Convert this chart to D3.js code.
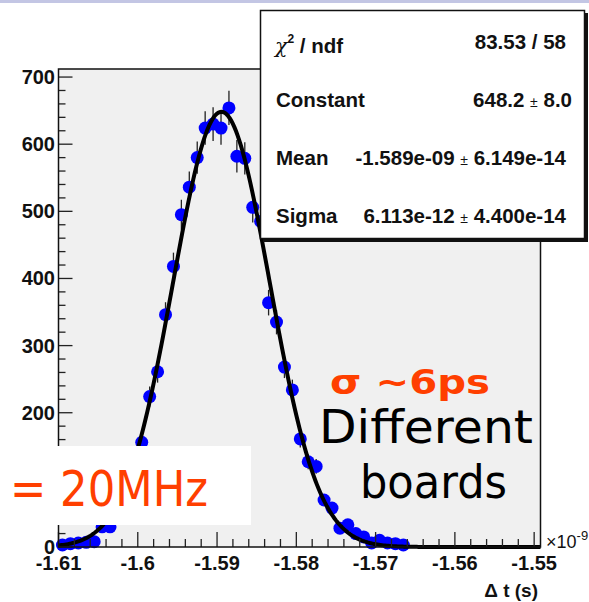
<!DOCTYPE html>
<html>
<head>
<meta charset="utf-8">
<title>Delta t fit</title>
<style>
body { margin: 0; background: white; }
svg { display: block; }
.tick-label { font: bold 20px "Liberation Sans", Arial, sans-serif; fill: #111; }
.stat { font: bold 20.5px "Liberation Sans", Arial, sans-serif; fill: #111; }
.note { font-family: "Comic Sans MS", "DejaVu Sans", sans-serif; }
</style>
</head>
<body>
<svg width="589" height="602"></svg>
<script src="https://cdn.jsdelivr.net/npm/d3@7/dist/d3.min.js"></script>
<script>

// bin centres (units of 1e-9 s) and entries per bin
var binCenters = [-1.6095, -1.6085, -1.6075, -1.6065, -1.6055, -1.6045, -1.6035, -1.6025, -1.6015, -1.6005,
  -1.5995, -1.5985, -1.5975, -1.5965, -1.5955, -1.5945, -1.5935, -1.5925, -1.5915, -1.5905,
  -1.5895, -1.5885, -1.5875, -1.5865, -1.5855, -1.5845, -1.5835, -1.5825, -1.5815, -1.5805,
  -1.5795, -1.5785, -1.5775, -1.5765, -1.5755, -1.5745, -1.5735, -1.5725, -1.5715, -1.5705,
  -1.5695, -1.5685, -1.5675, -1.5665];
var counts = [3, 5, 6, 7, 8, 30, 30, 52, 72, 104,
  156, 224, 261, 346, 418, 495, 536, 580, 624, 630,
  624, 654, 582, 579, 506, 485, 364, 335, 268, 234,
  161, 127, 120, 70, 58, 28, 33, 20, 15, 6,
  10, 6, 5, 3];

// fit result shown in the stat box (mean estimated beyond the printed digits)
var fitConstant = 648.2, fitMean = -1.58945, fitSigma = 0.006113;
var statLabels = ["Constant", "Mean", "Sigma"];
var statValues = ["648.2", "-1.589e-09", "6.113e-12"];
var statErrors = ["8.0", "6.149e-14", "4.400e-14"];
var chi2Text = "83.53 / 58";

var xTicks = [-1.61, -1.6, -1.59, -1.58, -1.57, -1.56, -1.55];
var xTickLabels = ["-1.61", "-1.6", "-1.59", "-1.58", "-1.57", "-1.56", "-1.55"];
var yTicks = [0, 100, 200, 300, 400, 500, 600, 700];
var yTickLabels = ["0", "", "200", "300", "400", "500", "600", "700"]; // 100 sits under the pasted box

var svg = d3.select("svg");
var frame = {left: 58.5, right: 540.5, top: 69, bottom: 547};
var xMax = -1.5492;

var x = d3.scaleLinear().domain([-1.61, xMax]).range([frame.left, frame.right]);
var y = d3.scaleLinear().domain([0, 712]).range([frame.bottom, frame.top]);

// slide strip at the very top
svg.append("rect").attr("x", 0).attr("y", 0).attr("width", 589).attr("height", 3).attr("fill", "#c3c6e4");

// frame background
svg.append("rect")
  .attr("x", frame.left).attr("y", frame.top)
  .attr("width", frame.right - frame.left).attr("height", frame.bottom - frame.top)
  .attr("fill", "#f0f0f0");

var g = svg.append("g");

// error bars
g.selectAll("line.err")
  .data(counts)
  .enter().append("line")
    .attr("class", "err")
    .attr("x1", function(d, i) { return x(binCenters[i]); })
    .attr("x2", function(d, i) { return x(binCenters[i]); })
    .attr("y1", function(d) { return y(d + Math.sqrt(d)); })
    .attr("y2", function(d) { return y(Math.max(0, d - Math.sqrt(d))); })
    .attr("stroke", "#222")
    .attr("stroke-width", 1.3);

// markers
g.selectAll("circle")
  .data(counts)
  .enter().append("circle")
    .attr("cx", function(d, i) { return x(binCenters[i]); })
    .attr("cy", function(d) { return y(d); })
    .attr("r", 6.5)
    .attr("fill", "#0000ff");

// gaussian fit curve
var curveX = d3.range(-1.61, xMax + 1e-9, 0.0002);
var gauss = function(t) { return fitConstant * Math.exp(-0.5 * Math.pow((t - fitMean) / fitSigma, 2)); };
g.append("path")
  .datum(curveX)
  .attr("d", d3.line().x(function(t) { return x(t); }).y(function(t) { return y(gauss(t)); }))
  .attr("fill", "none")
  .attr("stroke", "black")
  .attr("stroke-width", 4);

// ticks (ROOT style, drawn inside the frame)
var axes = svg.append("g").attr("stroke", "#222").attr("stroke-width", 1.3);
var yMinor = d3.range(0, 712, 20);
axes.selectAll("line.ym")
  .data(yMinor)
  .enter().append("line")
    .attr("x1", frame.left).attr("x2", function(d) { return frame.left + (d % 100 === 0 ? 14 : 7); })
    .attr("y1", function(d) { return y(d); }).attr("y2", function(d) { return y(d); });

var xMinor = d3.range(0, 31).map(function(i) { return -1.61 + i * 0.002; });
axes.selectAll("line.xm")
  .data(xMinor)
  .enter().append("line")
    .attr("x1", function(d) { return x(d); }).attr("x2", function(d) { return x(d); })
    .attr("y1", frame.bottom).attr("y2", function(d, i) { return frame.bottom - (i % 5 === 0 ? 15 : 8); });

// frame border
svg.append("rect")
  .attr("x", frame.left).attr("y", frame.top)
  .attr("width", frame.right - frame.left).attr("height", frame.bottom - frame.top)
  .attr("fill", "none").attr("stroke", "#111").attr("stroke-width", 1.5);

// tick labels
svg.selectAll("text.yl")
  .data(yTicks)
  .enter().append("text")
    .attr("class", "tick-label")
    .attr("x", 55).attr("y", function(d) { return y(d) + 7; })
    .attr("text-anchor", "end")
    .text(function(d, i) { return yTickLabels[i]; });

svg.selectAll("text.xl")
  .data(xTicks)
  .enter().append("text")
    .attr("class", "tick-label")
    .attr("x", function(d) { return x(d); }).attr("y", 570)
    .attr("text-anchor", "middle")
    .text(function(d, i) { return xTickLabels[i]; });

// x10^-9 and axis title
var mult = svg.append("text").attr("x", 546).attr("y", 548)
  .style("font", "18px 'Liberation Sans', Arial, sans-serif").attr("fill", "#111");
mult.append("tspan").text("\u00d710");
mult.append("tspan").attr("dy", -8).style("font-size", "13px").text("-9");

svg.append("text").attr("x", 538).attr("y", 597).attr("text-anchor", "end")
  .style("font", "bold 19px 'Liberation Sans', Arial, sans-serif").attr("fill", "#111")
  .text("\u0394 t (s)");

// stat box with shadow
svg.append("rect").attr("x", 263).attr("y", 13).attr("width", 325).attr("height", 229).attr("fill", "#111");
svg.append("rect").attr("x", 260.5).attr("y", 10.5).attr("width", 324).attr("height", 228)
  .attr("fill", "white").attr("stroke", "#111").attr("stroke-width", 1.5);

var chi = svg.append("text").attr("class", "stat").attr("x", 275).attr("y", 53);
chi.append("tspan").style("font-weight", "normal").style("font-family", "'DejaVu Serif', serif").style("font-style", "italic").text("\u03c7");
chi.append("tspan").attr("dy", -10).style("font-size", "12px").text("2");
chi.append("tspan").attr("dy", 10).text(" / ndf");
svg.append("text").attr("class", "stat").attr("x", 566).attr("y", 49).attr("text-anchor", "end").text(chi2Text);

statLabels.forEach(function(lab, i) {
  var by = 107 + i * 58;
  svg.append("text").attr("class", "stat").attr("x", 276).attr("y", by).text(lab);
  var t = svg.append("text").attr("class", "stat").attr("x", i === 0 ? 572 : 566).attr("y", by).attr("text-anchor", "end");
  t.append("tspan").text(statValues[i] + " ");
  t.append("tspan").style("font-size", "14px").style("font-weight", "normal").text("\u00b1");
  t.append("tspan").text(" " + statErrors[i]);
});

// annotations pasted on the slide
svg.append("rect").attr("x", 0).attr("y", 446).attr("width", 251).attr("height", 79).attr("fill", "white");
svg.append("text").attr("class", "note").attr("x", 10).attr("y", 506)
  .attr("textLength", 198).attr("lengthAdjust", "spacingAndGlyphs")
  .style("font-size", "50px").attr("fill", "#ff3f00").text("= 20MHz");

svg.append("text").attr("class", "note").attr("x", 330).attr("y", 394)
  .attr("textLength", 160).attr("lengthAdjust", "spacingAndGlyphs")
  .style("font-size", "33px").style("font-weight", "bold").attr("fill", "#ff3f00").text("\u03c3  ~6ps");
svg.append("text").attr("class", "note").attr("x", 319).attr("y", 443)
  .attr("textLength", 214).attr("lengthAdjust", "spacingAndGlyphs")
  .style("font-size", "47px").attr("fill", "black").text("Different");
svg.append("text").attr("class", "note").attr("x", 360).attr("y", 498)
  .attr("textLength", 147).attr("lengthAdjust", "spacingAndGlyphs")
  .style("font-size", "47px").attr("fill", "black").text("boards");

</script>
</body>
</html>
